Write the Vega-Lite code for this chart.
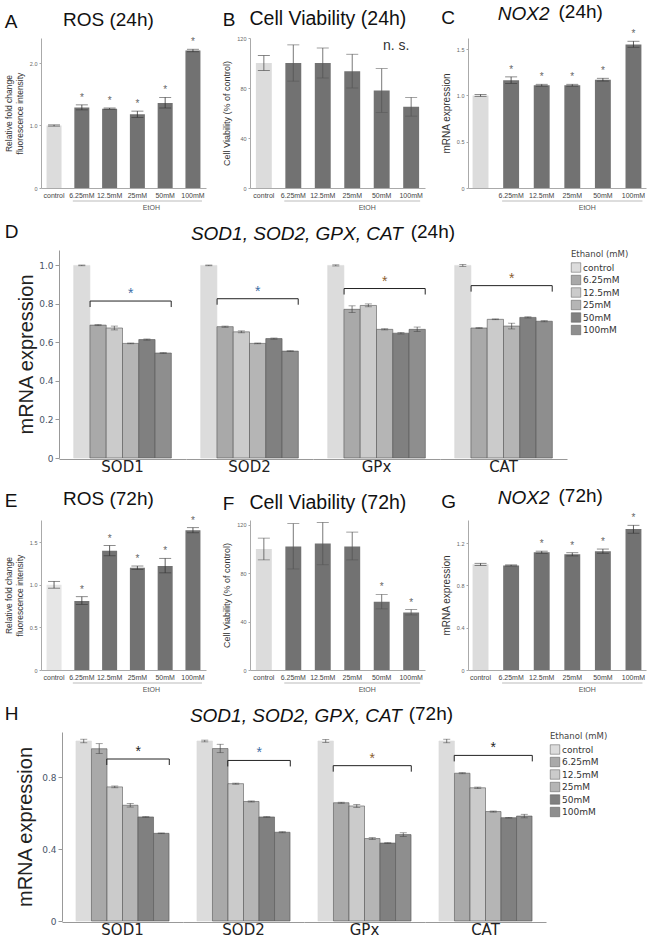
{
 "$schema": "https://vega.github.io/schema/vega-lite/v6.json",
 "padding": {"left": 3, "top": 3, "right": 2, "bottom": 0},
 "background": "white",
 "config": {
  "view": {"stroke": null},
  "font": "Liberation Sans",
  "title": {"fontWeight": "normal", "color": "#111", "font": "Liberation Sans"},
  "axis": {"grid": false, "titleFontWeight": "normal", "labelFont": "Liberation Sans", "titleFont": "Liberation Sans"}
 },
 "columns": 1,
 "spacing": 12,
 "align": "none",
 "resolve": {"scale": {"fill": "independent"}, "legend": {"fill": "independent"}},
 "concat": [
  {"spacing": 0, "hconcat": [
   {"width": 1, "height": 1, "data": {"values": [{}]}, "mark": {"type": "text"}},
   {"spacing": 16, "hconcat": [
   {"title": {"text": "A", "anchor": "start", "fontSize": 19, "offset": -21},
    "vconcat": [{
     "title": {"text": "ROS (24h)", "fontSize": 19, "frame": "bounds", "dx": 3, "offset": 7},
     "width": 165, "height": 150,
     "data": {"values": [
      {"conc": "control", "value": 1.0, "lo": 0.99, "hi": 1.01, "sig": false},
      {"conc": "6.25mM", "value": 1.29, "lo": 1.25, "hi": 1.33, "sig": true},
      {"conc": "12.5mM", "value": 1.27, "lo": 1.26, "hi": 1.28, "sig": true},
      {"conc": "25mM", "value": 1.18, "lo": 1.13, "hi": 1.23, "sig": true},
      {"conc": "50mM", "value": 1.36, "lo": 1.28, "hi": 1.45, "sig": true},
      {"conc": "100mM", "value": 2.2, "lo": 2.18, "hi": 2.22, "sig": true}
     ]},
     "encoding": {"x": {"field": "conc", "type": "nominal", "scale": {"domain": ["control", "6.25mM", "12.5mM", "25mM", "50mM", "100mM"], "paddingInner": 0.46, "paddingOuter": 0.2}, "axis": {"title": null, "labelAngle": 0, "labelFontSize": 7, "labelColor": "#444", "ticks": false, "labelPadding": 3, "domainColor": "#aaa"}}},
     "layer": [
      {"mark": "bar", "encoding": {"y": {"field": "value", "type": "quantitative", "title": ["Relative fold change", "fluorescence intensity"], "scale": {"domain": [0, 2.4], "nice": false}, "axis": {"titleFontSize": 8.5, "titleColor": "#333", "titlePadding": 5, "values": [0, 0.5, 1, 1.5, 2], "labelExpr": "datum.value === 0 ? '0' : format(datum.value, '.1f')", "labelFontSize": 5.5, "labelColor": "#666", "tickSize": 2, "tickColor": "#aaa", "domainColor": "#aaa"}}, "color": {"condition": {"test": "datum.conc === 'control'", "value": "#dcdcdc"}, "value": "#727272"}}},
      {"mark": {"type": "errorbar", "ticks": {"size": 12}, "color": "#333", "thickness": 0.8}, "encoding": {"y": {"field": "lo", "type": "quantitative", "title": ["Relative fold change", "fluorescence intensity"]}, "y2": {"field": "hi"}}},
      {"transform": [{"filter": "datum.sig"}], "mark": {"type": "text", "text": "*", "baseline": "bottom", "dy": -2, "fontSize": 10, "color": "#666"}, "encoding": {"y": {"field": "hi", "type": "quantitative", "title": ["Relative fold change", "fluorescence intensity"]}}},
      {"data": {"values": [{"group": "EtOH"}]}, "mark": {"type": "rule", "color": "#aaa", "strokeWidth": 0.8, "yOffset": 13, "xOffset": -9, "x2Offset": 9}, "encoding": {"x": {"datum": "6.25mM"}, "x2": {"datum": "100mM"}, "y": {"datum": 0}}},
      {"data": {"values": [{"group": "EtOH"}]}, "mark": {"type": "text", "baseline": "top", "fontSize": 7, "color": "#555", "yOffset": 16, "xOffset": 14}, "encoding": {"x": {"datum": "25mM"}, "y": {"datum": 0}, "text": {"field": "group"}}}
     ]
    }]
   },
   {"title": {"text": "B", "anchor": "start", "fontSize": 19, "offset": -21},
    "vconcat": [{
     "title": {"text": "Cell Viability (24h)", "fontSize": 19.5, "frame": "bounds", "dx": 4, "offset": 7},
     "width": 175, "height": 150,
     "data": {"values": [
      {"conc": "control", "value": 100, "lo": 94, "hi": 106},
      {"conc": "6.25mM", "value": 100, "lo": 85.5, "hi": 114.5},
      {"conc": "12.5mM", "value": 100, "lo": 88, "hi": 112},
      {"conc": "25mM", "value": 93.5, "lo": 80, "hi": 107},
      {"conc": "50mM", "value": 78, "lo": 60.5, "hi": 95.5},
      {"conc": "100mM", "value": 65, "lo": 57.5, "hi": 72.5}
     ]},
     "encoding": {"x": {"field": "conc", "type": "nominal", "scale": {"domain": ["control", "6.25mM", "12.5mM", "25mM", "50mM", "100mM"], "paddingInner": 0.46, "paddingOuter": 0.2}, "axis": {"title": null, "labelAngle": 0, "labelFontSize": 7, "labelColor": "#444", "ticks": false, "labelPadding": 3, "domainColor": "#aaa"}}},
     "layer": [
      {"mark": "bar", "encoding": {"y": {"field": "value", "type": "quantitative", "title": "Cell Viability (% of control)", "scale": {"domain": [0, 120], "nice": false}, "axis": {"titleFontSize": 9, "titleColor": "#333", "titlePadding": 5, "values": [0, 20, 40, 60, 80, 100, 120], "labelFontSize": 5.5, "labelColor": "#666", "tickSize": 2, "tickColor": "#aaa", "domainColor": "#aaa"}}, "color": {"condition": {"test": "datum.conc === 'control'", "value": "#dcdcdc"}, "value": "#727272"}}},
      {"mark": {"type": "errorbar", "ticks": {"size": 12}, "color": "#555", "thickness": 0.8}, "encoding": {"y": {"field": "lo", "type": "quantitative", "title": "Cell Viability (% of control)"}, "y2": {"field": "hi"}}},
      {"data": {"values": [{"note": "n. s."}]}, "mark": {"type": "text", "fontSize": 14, "color": "#333", "baseline": "middle", "xOffset": -15}, "encoding": {"x": {"datum": "100mM"}, "y": {"datum": 114}, "text": {"field": "note"}}},
      {"data": {"values": [{"group": "EtOH"}]}, "mark": {"type": "rule", "color": "#aaa", "strokeWidth": 0.8, "yOffset": 13, "xOffset": -9, "x2Offset": 9}, "encoding": {"x": {"datum": "6.25mM"}, "x2": {"datum": "100mM"}, "y": {"datum": 0}}},
      {"data": {"values": [{"group": "EtOH"}]}, "mark": {"type": "text", "baseline": "top", "fontSize": 7, "color": "#555", "yOffset": 16, "xOffset": 15}, "encoding": {"x": {"datum": "25mM"}, "y": {"datum": 0}, "text": {"field": "group"}}}
     ]
    }]
   },
   {"title": {"text": "C", "anchor": "start", "fontSize": 19, "offset": -25},
    "vconcat": [{
     "title": {"text": "NOX2", "fontStyle": "italic", "fontSize": 19, "anchor": "middle", "frame": "bounds", "offset": -21, "dx": -20},
     "vconcat": [{
      "title": {"text": "(24h)", "fontSize": 19, "anchor": "middle", "frame": "bounds", "dx": 37, "offset": 7},
      "width": 178, "height": 150,
      "data": {"values": [
       {"conc": "control", "value": 1.0, "lo": 0.99, "hi": 1.01, "sig": false},
       {"conc": "6.25mM", "value": 1.165, "lo": 1.13, "hi": 1.2, "sig": true},
       {"conc": "12.5mM", "value": 1.11, "lo": 1.1, "hi": 1.12, "sig": true},
       {"conc": "25mM", "value": 1.11, "lo": 1.1, "hi": 1.12, "sig": true},
       {"conc": "50mM", "value": 1.17, "lo": 1.155, "hi": 1.185, "sig": true},
       {"conc": "100mM", "value": 1.55, "lo": 1.52, "hi": 1.585, "sig": true}
      ]},
      "encoding": {"x": {"field": "conc", "type": "nominal", "scale": {"domain": ["control", "6.25mM", "12.5mM", "25mM", "50mM", "100mM"], "paddingInner": 0.48, "paddingOuter": 0.15}, "axis": {"title": null, "labelAngle": 0, "labelFontSize": 7, "labelColor": "#444", "ticks": false, "labelPadding": 3, "domainColor": "#aaa", "labelExpr": "datum.value === 'control' ? '' : datum.value"}}},
      "layer": [
       {"mark": "bar", "encoding": {"y": {"field": "value", "type": "quantitative", "title": "mRNA expression", "scale": {"domain": [0, 1.62], "nice": false}, "axis": {"titleFontSize": 10, "titleColor": "#333", "titlePadding": 5, "values": [0, 0.5, 1, 1.5], "labelExpr": "datum.value === 0 ? '0' : format(datum.value, '.1f')", "labelFontSize": 5.5, "labelColor": "#666", "tickSize": 2, "tickColor": "#aaa", "domainColor": "#aaa"}}, "color": {"condition": {"test": "datum.conc === 'control'", "value": "#dcdcdc"}, "value": "#727272"}}},
       {"mark": {"type": "errorbar", "ticks": {"size": 12}, "color": "#333", "thickness": 0.8}, "encoding": {"y": {"field": "lo", "type": "quantitative", "title": "mRNA expression"}, "y2": {"field": "hi"}}},
       {"transform": [{"filter": "datum.sig"}], "mark": {"type": "text", "text": "*", "baseline": "bottom", "dy": -2, "fontSize": 10, "color": "#666"}, "encoding": {"y": {"field": "hi", "type": "quantitative", "title": "mRNA expression"}}},
       {"data": {"values": [{"group": "EtOH"}]}, "mark": {"type": "rule", "color": "#aaa", "strokeWidth": 0.8, "yOffset": 13, "xOffset": -9, "x2Offset": 9}, "encoding": {"x": {"datum": "6.25mM"}, "x2": {"datum": "100mM"}, "y": {"datum": 0}}},
       {"data": {"values": [{"group": "EtOH"}]}, "mark": {"type": "text", "baseline": "top", "fontSize": 7, "color": "#555", "yOffset": 16, "xOffset": 15}, "encoding": {"x": {"datum": "25mM"}, "y": {"datum": 0}, "text": {"field": "group"}}}
      ]
     }]
    }]
   }
  ]}]},
  {"spacing": 0, "hconcat": [
   {"width": 1, "height": 1, "data": {"values": [{}]}, "mark": {"type": "text"}},
   {"title": {"text": "D", "anchor": "start", "fontSize": 19, "offset": -19, "dx": -12},
   "resolve": {"scale": {"fill": "independent"}, "legend": {"fill": "independent"}},
   "vconcat": [{
    "title": {"text": "SOD1, SOD2, GPX, CAT", "fontStyle": "italic", "fontSize": 19, "anchor": "middle", "frame": "bounds", "offset": -21, "dx": -26},
    "resolve": {"scale": {"fill": "independent"}, "legend": {"fill": "independent"}},
    "vconcat": [{
     "title": {"text": "(24h)", "fontSize": 19, "anchor": "middle", "frame": "bounds", "dx": 110, "offset": 8},
     "data": {"values": [
      {"gene": "SOD1", "conc": "control", "value": 1.0, "lo": 0.998, "hi": 1.002},
      {"gene": "SOD1", "conc": "6.25mM", "value": 0.69, "lo": 0.687, "hi": 0.693},
      {"gene": "SOD1", "conc": "12.5mM", "value": 0.675, "lo": 0.665, "hi": 0.685},
      {"gene": "SOD1", "conc": "25mM", "value": 0.595, "lo": 0.593, "hi": 0.597},
      {"gene": "SOD1", "conc": "50mM", "value": 0.615, "lo": 0.612, "hi": 0.618},
      {"gene": "SOD1", "conc": "100mM", "value": 0.545, "lo": 0.543, "hi": 0.547},
      {"gene": "SOD2", "conc": "control", "value": 1.0, "lo": 0.998, "hi": 1.002},
      {"gene": "SOD2", "conc": "6.25mM", "value": 0.682, "lo": 0.679, "hi": 0.685},
      {"gene": "SOD2", "conc": "12.5mM", "value": 0.655, "lo": 0.65, "hi": 0.66},
      {"gene": "SOD2", "conc": "25mM", "value": 0.595, "lo": 0.593, "hi": 0.597},
      {"gene": "SOD2", "conc": "50mM", "value": 0.62, "lo": 0.617, "hi": 0.623},
      {"gene": "SOD2", "conc": "100mM", "value": 0.555, "lo": 0.553, "hi": 0.557},
      {"gene": "GPx", "conc": "control", "value": 1.0, "lo": 0.997, "hi": 1.003},
      {"gene": "GPx", "conc": "6.25mM", "value": 0.772, "lo": 0.755, "hi": 0.79},
      {"gene": "GPx", "conc": "12.5mM", "value": 0.792, "lo": 0.785, "hi": 0.8},
      {"gene": "GPx", "conc": "25mM", "value": 0.668, "lo": 0.665, "hi": 0.671},
      {"gene": "GPx", "conc": "50mM", "value": 0.648, "lo": 0.644, "hi": 0.652},
      {"gene": "GPx", "conc": "100mM", "value": 0.668, "lo": 0.657, "hi": 0.68},
      {"gene": "CAT", "conc": "control", "value": 1.0, "lo": 0.995, "hi": 1.005},
      {"gene": "CAT", "conc": "6.25mM", "value": 0.675, "lo": 0.673, "hi": 0.677},
      {"gene": "CAT", "conc": "12.5mM", "value": 0.72, "lo": 0.718, "hi": 0.722},
      {"gene": "CAT", "conc": "25mM", "value": 0.685, "lo": 0.67, "hi": 0.7},
      {"gene": "CAT", "conc": "50mM", "value": 0.73, "lo": 0.727, "hi": 0.733},
      {"gene": "CAT", "conc": "100mM", "value": 0.71, "lo": 0.707, "hi": 0.713},
      {"gene": "SOD1", "from": "6.25mM", "to": "100mM", "level": 0.815},
      {"gene": "SOD2", "from": "6.25mM", "to": "100mM", "level": 0.827},
      {"gene": "GPx", "from": "6.25mM", "to": "100mM", "level": 0.88},
      {"gene": "CAT", "from": "6.25mM", "to": "100mM", "level": 0.895}
     ]},
     "facet": {"column": {"field": "gene", "type": "nominal", "sort": ["SOD1", "SOD2", "GPx", "CAT"], "header": {"title": null, "labelOrient": "bottom", "labelFontSize": 15, "labelFont": "DejaVu Sans", "labelColor": "#222", "labelPadding": 1}}},
     "spacing": 0,
     "spec": {
      "width": 127, "height": 208,
      "layer": [
       {"transform": [{"filter": "datum.conc"}], "mark": {"type": "bar", "strokeWidth": 0.6}, "encoding": {
        "x": {"field": "conc", "type": "nominal", "scale": {"domain": ["control", "6.25mM", "12.5mM", "25mM", "50mM", "100mM"], "paddingInner": 0, "paddingOuter": 0.9}, "axis": {"title": null, "labels": false, "ticks": false, "domainColor": "#999"}},
        "y": {"field": "value", "type": "quantitative", "title": "mRNA expression", "scale": {"domain": [0, 1.08], "nice": false}, "axis": {"titleFontSize": 20, "titleColor": "#222", "titlePadding": 2, "values": [0, 0.2, 0.4, 0.6, 0.8, 1], "labelExpr": "datum.value === 0 ? '0' : format(datum.value, '.1f')", "labelFont": "DejaVu Sans", "labelFontSize": 9, "labelColor": "#4a5568", "tickSize": 4, "tickColor": "#999", "domainColor": "#999"}},
        "fill": {"field": "conc", "type": "nominal", "scale": {"domain": ["control", "6.25mM", "12.5mM", "25mM", "50mM", "100mM"], "range": ["#dcdcdc", "#a9a9a9", "#cbcbcb", "#b5b5b5", "#808080", "#8e8e8e"]}, "legend": {"title": "Ethanol (mM)", "orient": "right", "offset": 4, "titleFont": "DejaVu Sans", "titleFontSize": 8.5, "titleFontWeight": "normal", "titleColor": "#444", "labelFont": "DejaVu Sans", "labelFontSize": 9, "labelColor": "#333", "symbolType": "square", "symbolSize": 90, "symbolStrokeColor": "#555", "symbolStrokeWidth": 0.5, "rowPadding": 0.5, "labelOffset": 2, "titlePadding": 4}},
        "stroke": {"condition": {"test": "datum.conc === 'control'", "value": "#dcdcdc"}, "value": "#555"}}},
       {"transform": [{"filter": "datum.conc"}], "mark": {"type": "errorbar", "ticks": {"size": 7}, "color": "#444", "thickness": 0.7}, "encoding": {"x": {"field": "conc", "type": "nominal"}, "y": {"field": "lo", "type": "quantitative", "title": "mRNA expression"}, "y2": {"field": "hi"}}},
       {"transform": [{"filter": "datum.from"}], "mark": {"type": "rule", "color": "#222", "strokeWidth": 1, "xOffset": -8, "x2Offset": 8}, "encoding": {"x": {"field": "from", "type": "nominal"}, "x2": {"field": "to"}, "y": {"field": "level", "type": "quantitative", "title": "mRNA expression"}}},
       {"transform": [{"filter": "datum.from"}], "mark": {"type": "rule", "color": "#222", "strokeWidth": 1, "xOffset": -8, "y2Offset": 6}, "encoding": {"x": {"field": "from", "type": "nominal"}, "y": {"field": "level", "type": "quantitative", "title": "mRNA expression"}, "y2": {"field": "level"}}},
       {"transform": [{"filter": "datum.from"}], "mark": {"type": "rule", "color": "#222", "strokeWidth": 1, "xOffset": 8, "y2Offset": 6}, "encoding": {"x": {"field": "to", "type": "nominal"}, "y": {"field": "level", "type": "quantitative", "title": "mRNA expression"}, "y2": {"field": "level"}}},
       {"transform": [{"filter": "datum.from === '6.25mM'"}], "mark": {"type": "text", "text": "*", "fontSize": 14, "baseline": "bottom", "dy": 0}, "encoding": {"x": {"datum": "25mM"}, "y": {"field": "level", "type": "quantitative", "title": "mRNA expression"}, "color": {"condition": {"test": "datum.gene === 'SOD1' || datum.gene === 'SOD2'", "value": "#3b6ea5"}, "value": "#8b5e2e"}}}
      ]
     }
    }]
   }]
  }]},
  {"spacing": 0, "hconcat": [
   {"width": 1, "height": 1, "data": {"values": [{}]}, "mark": {"type": "text"}},
   {"spacing": 16, "hconcat": [
   {"title": {"text": "E", "anchor": "start", "fontSize": 19, "offset": -21},
    "vconcat": [{
     "title": {"text": "ROS (72h)", "fontSize": 19, "frame": "bounds", "dx": 3, "offset": 7},
     "width": 165, "height": 150,
     "data": {"values": [
      {"conc": "control", "value": 1.0, "lo": 0.96, "hi": 1.04, "sig": false},
      {"conc": "6.25mM", "value": 0.81, "lo": 0.77, "hi": 0.86, "sig": true},
      {"conc": "12.5mM", "value": 1.4, "lo": 1.34, "hi": 1.46, "sig": true},
      {"conc": "25mM", "value": 1.2, "lo": 1.18, "hi": 1.22, "sig": true},
      {"conc": "50mM", "value": 1.22, "lo": 1.14, "hi": 1.31, "sig": true},
      {"conc": "100mM", "value": 1.64, "lo": 1.61, "hi": 1.67, "sig": true}
     ]},
     "encoding": {"x": {"field": "conc", "type": "nominal", "scale": {"domain": ["control", "6.25mM", "12.5mM", "25mM", "50mM", "100mM"], "paddingInner": 0.46, "paddingOuter": 0.2}, "axis": {"title": null, "labelAngle": 0, "labelFontSize": 7, "labelColor": "#444", "ticks": false, "labelPadding": 3, "domainColor": "#aaa"}}},
     "layer": [
      {"mark": "bar", "encoding": {"y": {"field": "value", "type": "quantitative", "title": ["Relative fold change", "fluorescence intensity"], "scale": {"domain": [0, 1.76], "nice": false}, "axis": {"titleFontSize": 8.5, "titleColor": "#333", "titlePadding": 5, "values": [0, 0.5, 1, 1.5], "labelExpr": "datum.value === 0 ? '0' : format(datum.value, '.1f')", "labelFontSize": 5.5, "labelColor": "#666", "tickSize": 2, "tickColor": "#aaa", "domainColor": "#aaa"}}, "color": {"condition": {"test": "datum.conc === 'control'", "value": "#e6e6e6"}, "value": "#727272"}}},
      {"mark": {"type": "errorbar", "ticks": {"size": 12}, "color": "#333", "thickness": 0.8}, "encoding": {"y": {"field": "lo", "type": "quantitative", "title": ["Relative fold change", "fluorescence intensity"]}, "y2": {"field": "hi"}}},
      {"transform": [{"filter": "datum.sig"}], "mark": {"type": "text", "text": "*", "baseline": "bottom", "dy": -2, "fontSize": 10, "color": "#666"}, "encoding": {"y": {"field": "hi", "type": "quantitative", "title": ["Relative fold change", "fluorescence intensity"]}}},
      {"data": {"values": [{"group": "EtOH"}]}, "mark": {"type": "rule", "color": "#aaa", "strokeWidth": 0.8, "yOffset": 13, "xOffset": -9, "x2Offset": 9}, "encoding": {"x": {"datum": "6.25mM"}, "x2": {"datum": "100mM"}, "y": {"datum": 0}}},
      {"data": {"values": [{"group": "EtOH"}]}, "mark": {"type": "text", "baseline": "top", "fontSize": 7, "color": "#555", "yOffset": 16, "xOffset": 14}, "encoding": {"x": {"datum": "25mM"}, "y": {"datum": 0}, "text": {"field": "group"}}}
     ]
    }]
   },
   {"title": {"text": "F", "anchor": "start", "fontSize": 19, "offset": -21},
    "vconcat": [{
     "title": {"text": "Cell Viability (72h)", "fontSize": 19.5, "frame": "bounds", "dx": 4, "offset": 7},
     "width": 175, "height": 150,
     "data": {"values": [
      {"conc": "control", "value": 100, "lo": 91, "hi": 109, "sig": false},
      {"conc": "6.25mM", "value": 102, "lo": 83.5, "hi": 121, "sig": false},
      {"conc": "12.5mM", "value": 104.5, "lo": 87, "hi": 122, "sig": false},
      {"conc": "25mM", "value": 102, "lo": 91, "hi": 114, "sig": false},
      {"conc": "50mM", "value": 56.5, "lo": 50.5, "hi": 62.5, "sig": true},
      {"conc": "100mM", "value": 47.5, "lo": 45.5, "hi": 50, "sig": true}
     ]},
     "encoding": {"x": {"field": "conc", "type": "nominal", "scale": {"domain": ["control", "6.25mM", "12.5mM", "25mM", "50mM", "100mM"], "paddingInner": 0.46, "paddingOuter": 0.2}, "axis": {"title": null, "labelAngle": 0, "labelFontSize": 7, "labelColor": "#444", "ticks": false, "labelPadding": 3, "domainColor": "#aaa"}}},
     "layer": [
      {"mark": "bar", "encoding": {"y": {"field": "value", "type": "quantitative", "title": "Cell Viability (% of control)", "scale": {"domain": [0, 124], "nice": false}, "axis": {"titleFontSize": 9, "titleColor": "#333", "titlePadding": 5, "values": [0, 20, 40, 60, 80, 100, 120], "labelFontSize": 5.5, "labelColor": "#666", "tickSize": 2, "tickColor": "#aaa", "domainColor": "#aaa"}}, "color": {"condition": {"test": "datum.conc === 'control'", "value": "#dcdcdc"}, "value": "#727272"}}},
      {"mark": {"type": "errorbar", "ticks": {"size": 12}, "color": "#555", "thickness": 0.8}, "encoding": {"y": {"field": "lo", "type": "quantitative", "title": "Cell Viability (% of control)"}, "y2": {"field": "hi"}}},
      {"transform": [{"filter": "datum.sig"}], "mark": {"type": "text", "text": "*", "baseline": "bottom", "dy": -2, "fontSize": 10, "color": "#666"}, "encoding": {"y": {"field": "hi", "type": "quantitative", "title": "Cell Viability (% of control)"}}},
      {"data": {"values": [{"group": "EtOH"}]}, "mark": {"type": "rule", "color": "#aaa", "strokeWidth": 0.8, "yOffset": 13, "xOffset": -9, "x2Offset": 9}, "encoding": {"x": {"datum": "6.25mM"}, "x2": {"datum": "100mM"}, "y": {"datum": 0}}},
      {"data": {"values": [{"group": "EtOH"}]}, "mark": {"type": "text", "baseline": "top", "fontSize": 7, "color": "#555", "yOffset": 16, "xOffset": 15}, "encoding": {"x": {"datum": "25mM"}, "y": {"datum": 0}, "text": {"field": "group"}}}
     ]
    }]
   },
   {"title": {"text": "G", "anchor": "start", "fontSize": 19, "offset": -25},
    "vconcat": [{
     "title": {"text": "NOX2", "fontStyle": "italic", "fontSize": 19, "anchor": "middle", "frame": "bounds", "offset": -21, "dx": -20},
     "vconcat": [{
      "title": {"text": "(72h)", "fontSize": 19, "anchor": "middle", "frame": "bounds", "dx": 37, "offset": 7},
      "width": 178, "height": 150,
      "data": {"values": [
       {"conc": "control", "value": 1.0, "lo": 0.99, "hi": 1.01, "sig": false},
       {"conc": "6.25mM", "value": 0.99, "lo": 0.985, "hi": 0.995, "sig": false},
       {"conc": "12.5mM", "value": 1.115, "lo": 1.105, "hi": 1.125, "sig": true},
       {"conc": "25mM", "value": 1.095, "lo": 1.08, "hi": 1.11, "sig": true},
       {"conc": "50mM", "value": 1.125, "lo": 1.105, "hi": 1.145, "sig": true},
       {"conc": "100mM", "value": 1.335, "lo": 1.295, "hi": 1.37, "sig": true}
      ]},
      "encoding": {"x": {"field": "conc", "type": "nominal", "scale": {"domain": ["control", "6.25mM", "12.5mM", "25mM", "50mM", "100mM"], "paddingInner": 0.48, "paddingOuter": 0.15}, "axis": {"title": null, "labelAngle": 0, "labelFontSize": 7, "labelColor": "#444", "ticks": false, "labelPadding": 3, "domainColor": "#aaa"}}},
      "layer": [
       {"mark": "bar", "encoding": {"y": {"field": "value", "type": "quantitative", "title": "mRNA expression", "scale": {"domain": [0, 1.42], "nice": false}, "axis": {"titleFontSize": 10, "titleColor": "#333", "titlePadding": 5, "values": [0, 0.2, 0.4, 0.6, 0.8, 1, 1.2, 1.4], "labelExpr": "datum.value === 0 ? '0' : format(datum.value, '.1f')", "labelFontSize": 5.5, "labelColor": "#666", "tickSize": 2, "tickColor": "#aaa", "domainColor": "#aaa"}}, "color": {"condition": {"test": "datum.conc === 'control'", "value": "#dcdcdc"}, "value": "#727272"}}},
       {"mark": {"type": "errorbar", "ticks": {"size": 12}, "color": "#333", "thickness": 0.8}, "encoding": {"y": {"field": "lo", "type": "quantitative", "title": "mRNA expression"}, "y2": {"field": "hi"}}},
       {"transform": [{"filter": "datum.sig"}], "mark": {"type": "text", "text": "*", "baseline": "bottom", "dy": -2, "fontSize": 10, "color": "#666"}, "encoding": {"y": {"field": "hi", "type": "quantitative", "title": "mRNA expression"}}},
       {"data": {"values": [{"group": "EtOH"}]}, "mark": {"type": "rule", "color": "#aaa", "strokeWidth": 0.8, "yOffset": 13, "xOffset": -9, "x2Offset": 9}, "encoding": {"x": {"datum": "6.25mM"}, "x2": {"datum": "100mM"}, "y": {"datum": 0}}},
       {"data": {"values": [{"group": "EtOH"}]}, "mark": {"type": "text", "baseline": "top", "fontSize": 7, "color": "#555", "yOffset": 16, "xOffset": 15}, "encoding": {"x": {"datum": "25mM"}, "y": {"datum": 0}, "text": {"field": "group"}}}
      ]
     }]
    }]
   }
  ]}]},
  {"spacing": 0, "hconcat": [
   {"width": 1, "height": 1, "data": {"values": [{}]}, "mark": {"type": "text"}},
   {"title": {"text": "H", "anchor": "start", "fontSize": 19, "offset": -19, "dx": -11},
   "resolve": {"scale": {"fill": "independent"}, "legend": {"fill": "independent"}},
   "vconcat": [{
    "title": {"text": "SOD1, SOD2, GPX, CAT", "fontStyle": "italic", "fontSize": 19, "anchor": "middle", "frame": "bounds", "offset": -21, "dx": -16},
    "resolve": {"scale": {"fill": "independent"}, "legend": {"fill": "independent"}},
    "vconcat": [{
     "title": {"text": "(72h)", "fontSize": 19, "anchor": "middle", "frame": "bounds", "dx": 119, "offset": 8},
     "data": {"values": [
      {"gene": "SOD1", "conc": "control", "value": 1.0, "lo": 0.99, "hi": 1.01},
      {"gene": "SOD1", "conc": "6.25mM", "value": 0.957, "lo": 0.93, "hi": 0.985},
      {"gene": "SOD1", "conc": "12.5mM", "value": 0.745, "lo": 0.74, "hi": 0.75},
      {"gene": "SOD1", "conc": "25mM", "value": 0.643, "lo": 0.633, "hi": 0.653},
      {"gene": "SOD1", "conc": "50mM", "value": 0.578, "lo": 0.576, "hi": 0.58},
      {"gene": "SOD1", "conc": "100mM", "value": 0.487, "lo": 0.485, "hi": 0.489},
      {"gene": "SOD2", "conc": "control", "value": 1.0, "lo": 0.995, "hi": 1.005},
      {"gene": "SOD2", "conc": "6.25mM", "value": 0.958, "lo": 0.935, "hi": 0.982},
      {"gene": "SOD2", "conc": "12.5mM", "value": 0.763, "lo": 0.76, "hi": 0.766},
      {"gene": "SOD2", "conc": "25mM", "value": 0.664, "lo": 0.661, "hi": 0.667},
      {"gene": "SOD2", "conc": "50mM", "value": 0.578, "lo": 0.576, "hi": 0.58},
      {"gene": "SOD2", "conc": "100mM", "value": 0.493, "lo": 0.49, "hi": 0.496},
      {"gene": "GPx", "conc": "control", "value": 1.0, "lo": 0.992, "hi": 1.008},
      {"gene": "GPx", "conc": "6.25mM", "value": 0.657, "lo": 0.654, "hi": 0.66},
      {"gene": "GPx", "conc": "12.5mM", "value": 0.639, "lo": 0.631, "hi": 0.647},
      {"gene": "GPx", "conc": "25mM", "value": 0.458, "lo": 0.453, "hi": 0.463},
      {"gene": "GPx", "conc": "50mM", "value": 0.433, "lo": 0.431, "hi": 0.435},
      {"gene": "GPx", "conc": "100mM", "value": 0.48, "lo": 0.47, "hi": 0.49},
      {"gene": "CAT", "conc": "control", "value": 1.0, "lo": 0.99, "hi": 1.01},
      {"gene": "CAT", "conc": "6.25mM", "value": 0.821, "lo": 0.818, "hi": 0.824},
      {"gene": "CAT", "conc": "12.5mM", "value": 0.74, "lo": 0.736, "hi": 0.744},
      {"gene": "CAT", "conc": "25mM", "value": 0.608, "lo": 0.605, "hi": 0.611},
      {"gene": "CAT", "conc": "50mM", "value": 0.574, "lo": 0.572, "hi": 0.576},
      {"gene": "CAT", "conc": "100mM", "value": 0.583, "lo": 0.573, "hi": 0.593},
      {"gene": "SOD1", "from": "12.5mM", "to": "100mM", "level": 0.9},
      {"gene": "SOD2", "from": "12.5mM", "to": "100mM", "level": 0.892},
      {"gene": "GPx", "from": "6.25mM", "to": "100mM", "level": 0.863},
      {"gene": "CAT", "from": "6.25mM", "to": "100mM", "level": 0.92}
     ]},
     "facet": {"column": {"field": "gene", "type": "nominal", "sort": ["SOD1", "SOD2", "GPx", "CAT"], "header": {"title": null, "labelOrient": "bottom", "labelFontSize": 15, "labelFont": "DejaVu Sans", "labelColor": "#222", "labelPadding": 1}}},
     "spacing": 0,
     "spec": {
      "width": 121, "height": 189,
      "layer": [
       {"transform": [{"filter": "datum.conc"}], "mark": {"type": "bar", "strokeWidth": 0.6}, "encoding": {
        "x": {"field": "conc", "type": "nominal", "scale": {"domain": ["control", "6.25mM", "12.5mM", "25mM", "50mM", "100mM"], "paddingInner": 0, "paddingOuter": 0.9}, "axis": {"title": null, "labels": false, "ticks": false, "domainColor": "#999"}},
        "y": {"field": "value", "type": "quantitative", "title": "mRNA expression", "scale": {"domain": [0, 1.05], "nice": false}, "axis": {"titleFontSize": 20, "titleColor": "#222", "titlePadding": 6, "values": [0, 0.2, 0.4, 0.6, 0.8, 1], "labelExpr": "datum.value === 0 ? '0' : format(datum.value, '.1f')", "labelFont": "DejaVu Sans", "labelFontSize": 9, "labelColor": "#4a5568", "tickSize": 4, "tickColor": "#999", "domainColor": "#999"}},
        "fill": {"field": "conc", "type": "nominal", "scale": {"domain": ["control", "6.25mM", "12.5mM", "25mM", "50mM", "100mM"], "range": ["#dcdcdc", "#a9a9a9", "#cbcbcb", "#b5b5b5", "#808080", "#8e8e8e"]}, "legend": {"title": "Ethanol (mM)", "orient": "right", "offset": 4, "titleFont": "DejaVu Sans", "titleFontSize": 8.5, "titleFontWeight": "normal", "titleColor": "#444", "labelFont": "DejaVu Sans", "labelFontSize": 9, "labelColor": "#333", "symbolType": "square", "symbolSize": 90, "symbolStrokeColor": "#555", "symbolStrokeWidth": 0.5, "rowPadding": 0.5, "labelOffset": 2, "titlePadding": 4}},
        "stroke": {"condition": {"test": "datum.conc === 'control'", "value": "#dcdcdc"}, "value": "#555"}}},
       {"transform": [{"filter": "datum.conc"}], "mark": {"type": "errorbar", "ticks": {"size": 7}, "color": "#444", "thickness": 0.7}, "encoding": {"x": {"field": "conc", "type": "nominal"}, "y": {"field": "lo", "type": "quantitative", "title": "mRNA expression"}, "y2": {"field": "hi"}}},
       {"transform": [{"filter": "datum.from"}], "mark": {"type": "rule", "color": "#222", "strokeWidth": 1, "xOffset": -8, "x2Offset": 8}, "encoding": {"x": {"field": "from", "type": "nominal"}, "x2": {"field": "to"}, "y": {"field": "level", "type": "quantitative", "title": "mRNA expression"}}},
       {"transform": [{"filter": "datum.from"}], "mark": {"type": "rule", "color": "#222", "strokeWidth": 1, "xOffset": -8, "y2Offset": 6}, "encoding": {"x": {"field": "from", "type": "nominal"}, "y": {"field": "level", "type": "quantitative", "title": "mRNA expression"}, "y2": {"field": "level"}}},
       {"transform": [{"filter": "datum.from"}], "mark": {"type": "rule", "color": "#222", "strokeWidth": 1, "xOffset": 8, "y2Offset": 6}, "encoding": {"x": {"field": "to", "type": "nominal"}, "y": {"field": "level", "type": "quantitative", "title": "mRNA expression"}, "y2": {"field": "level"}}},
       {"transform": [{"filter": "datum.from === '6.25mM'"}], "mark": {"type": "text", "text": "*", "fontSize": 14, "baseline": "bottom", "dy": 0}, "encoding": {"x": {"datum": "25mM"}, "y": {"field": "level", "type": "quantitative", "title": "mRNA expression"}, "color": {"condition": [{"test": "datum.gene === 'SOD2'", "value": "#3b6ea5"}, {"test": "datum.gene === 'GPx'", "value": "#8b5e2e"}], "value": "#222"}}},
       {"transform": [{"filter": "datum.from === '12.5mM'"}], "mark": {"type": "text", "text": "*", "fontSize": 14, "baseline": "bottom", "dy": 0, "xOffset": 8}, "encoding": {"x": {"datum": "25mM"}, "y": {"field": "level", "type": "quantitative", "title": "mRNA expression"}, "color": {"condition": [{"test": "datum.gene === 'SOD2'", "value": "#3b6ea5"}, {"test": "datum.gene === 'GPx'", "value": "#8b5e2e"}], "value": "#222"}}}
      ]
     }
    }]
   }]
  }]}
 ]
}
